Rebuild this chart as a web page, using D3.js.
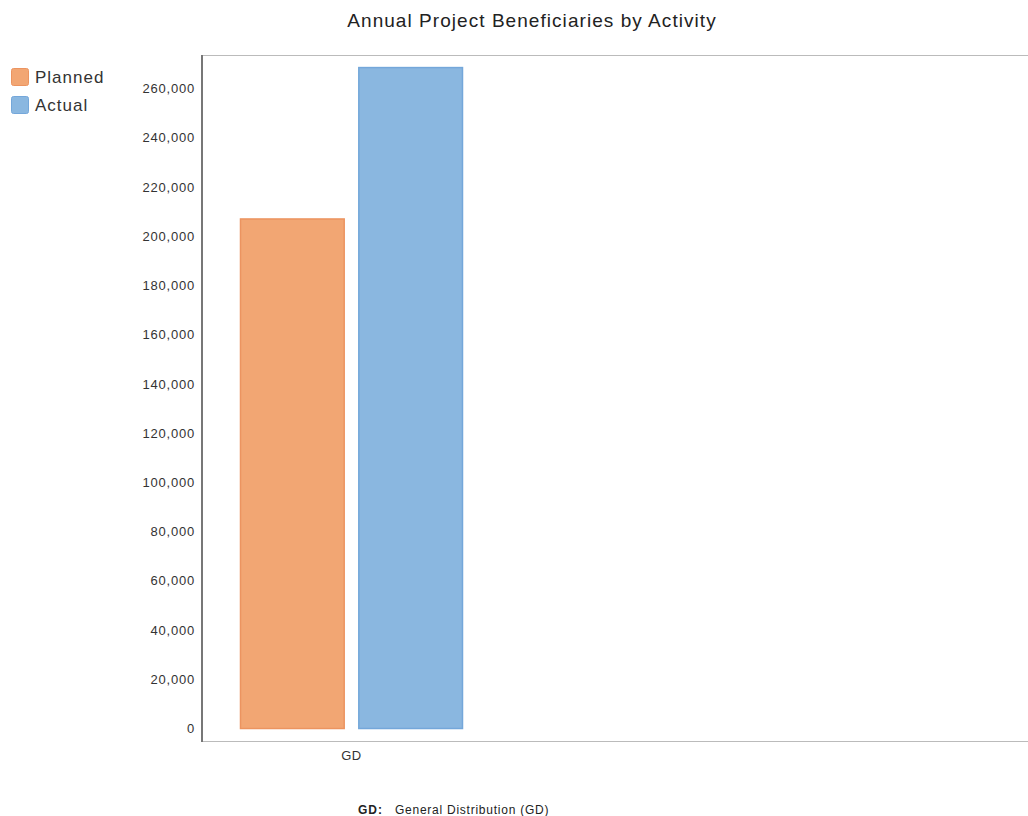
<!DOCTYPE html>
<html><head><meta charset="utf-8">
<script src="https://cdn.jsdelivr.net/npm/d3@7"></script>
<style>body{margin:0;background:#fff;} svg{display:block;font-family:"Liberation Sans",Arial,sans-serif;}</style>
</head><body><svg id="c" width="1028" height="816"></svg>
<script>
const categories = ["GD"];
const seriesNames = ["Planned", "Actual"];
const planned = [207000];
const actual = [268500];
const yTicks = [0,20000,40000,60000,80000,100000,120000,140000,160000,180000,200000,220000,240000,260000];
const footnoteKey = "GD:";
const footnoteText = "General Distribution (GD)";
const title = "Annual Project Beneficiaries by Activity";

const fills = {Planned:"#F2A673", Actual:"#8AB7E0"};
const strokes = {Planned:"#EC9460", Actual:"#74A7DA"};

const svg = d3.select("#c");
const plotL = 201, plotR = 1028, plotT = 55, plotB = 741;
const y = d3.scaleLinear().domain([0, 260000]).range([728.5, 88.5]);
const x = d3.scaleBand().domain(categories).range([plotL, plotL + 301]);
const xs = d3.scaleBand().domain(seriesNames).range([x(categories[0]) + 39, x(categories[0]) + 262]).paddingInner(0.115);

svg.append("text").attr("x", 532).attr("y", 27).attr("text-anchor","middle")
  .attr("font-size", 19).attr("letter-spacing","1.05px").attr("fill","#222").text(title);

// frame
svg.append("line").attr("x1",plotL).attr("x2",plotR).attr("y1",plotT+0.5).attr("y2",plotT+0.5).attr("stroke","#bbb");
svg.append("line").attr("x1",plotL).attr("x2",plotR).attr("y1",plotB+0.5).attr("y2",plotB+0.5).attr("stroke","#bbb");

// y axis
const yAxis = d3.axisLeft(y).tickValues(yTicks).tickSize(0).tickPadding(7).tickFormat(d3.format(","));
const ga = svg.append("g").attr("transform",`translate(${plotL},0)`).call(yAxis);
ga.select(".domain").remove();
ga.selectAll("text").attr("font-size",13).attr("fill","#333").attr("letter-spacing","0.8px")
  .attr("font-family","'Liberation Sans',Arial,sans-serif").attr("x",-6);
svg.append("line").attr("x1",plotL+1).attr("x2",plotL+1).attr("y1",plotT).attr("y2",plotB+1).attr("stroke","#777").attr("stroke-width",2);

// bars
const data = categories.map((c,i)=>({cat:c, vals:[{s:"Planned",v:planned[i]},{s:"Actual",v:actual[i]}]}));
data.forEach(d=>{
  d.vals.forEach(e=>{
    svg.append("rect").attr("x", xs(e.s) + 0.5).attr("y", y(e.v))
      .attr("width", xs.bandwidth()-1).attr("height", y(0)-y(e.v))
      .attr("fill", fills[e.s]).attr("stroke", strokes[e.s]).attr("stroke-width",1.5);
  });
});

// x axis labels
const xAxis = d3.axisBottom(x).tickSize(0).tickPadding(10);
const gx = svg.append("g").attr("transform",`translate(0,${plotB})`).call(xAxis);
gx.select(".domain").remove();
gx.selectAll("text").attr("font-size",13).attr("fill","#333").attr("letter-spacing","0.5px")
  .attr("font-family","'Liberation Sans',Arial,sans-serif");

// legend
seriesNames.forEach((s,i)=>{
  svg.append("rect").attr("x",11.5).attr("y",68.5+i*28).attr("width",17).attr("height",17).attr("rx",2)
    .attr("fill",fills[s]).attr("stroke",strokes[s]);
  svg.append("text").attr("x",35).attr("y",83+i*28).attr("font-size",17).attr("letter-spacing","1px").attr("fill","#333").text(s);
});

// footnote
svg.append("text").attr("x",358).attr("y",814).attr("font-size",12).attr("font-weight","bold").attr("fill","#222").attr("letter-spacing","1px").text(footnoteKey);
svg.append("text").attr("x",395).attr("y",814).attr("font-size",12).attr("letter-spacing","0.75px").attr("fill","#222").text(footnoteText);
</script></body></html>
